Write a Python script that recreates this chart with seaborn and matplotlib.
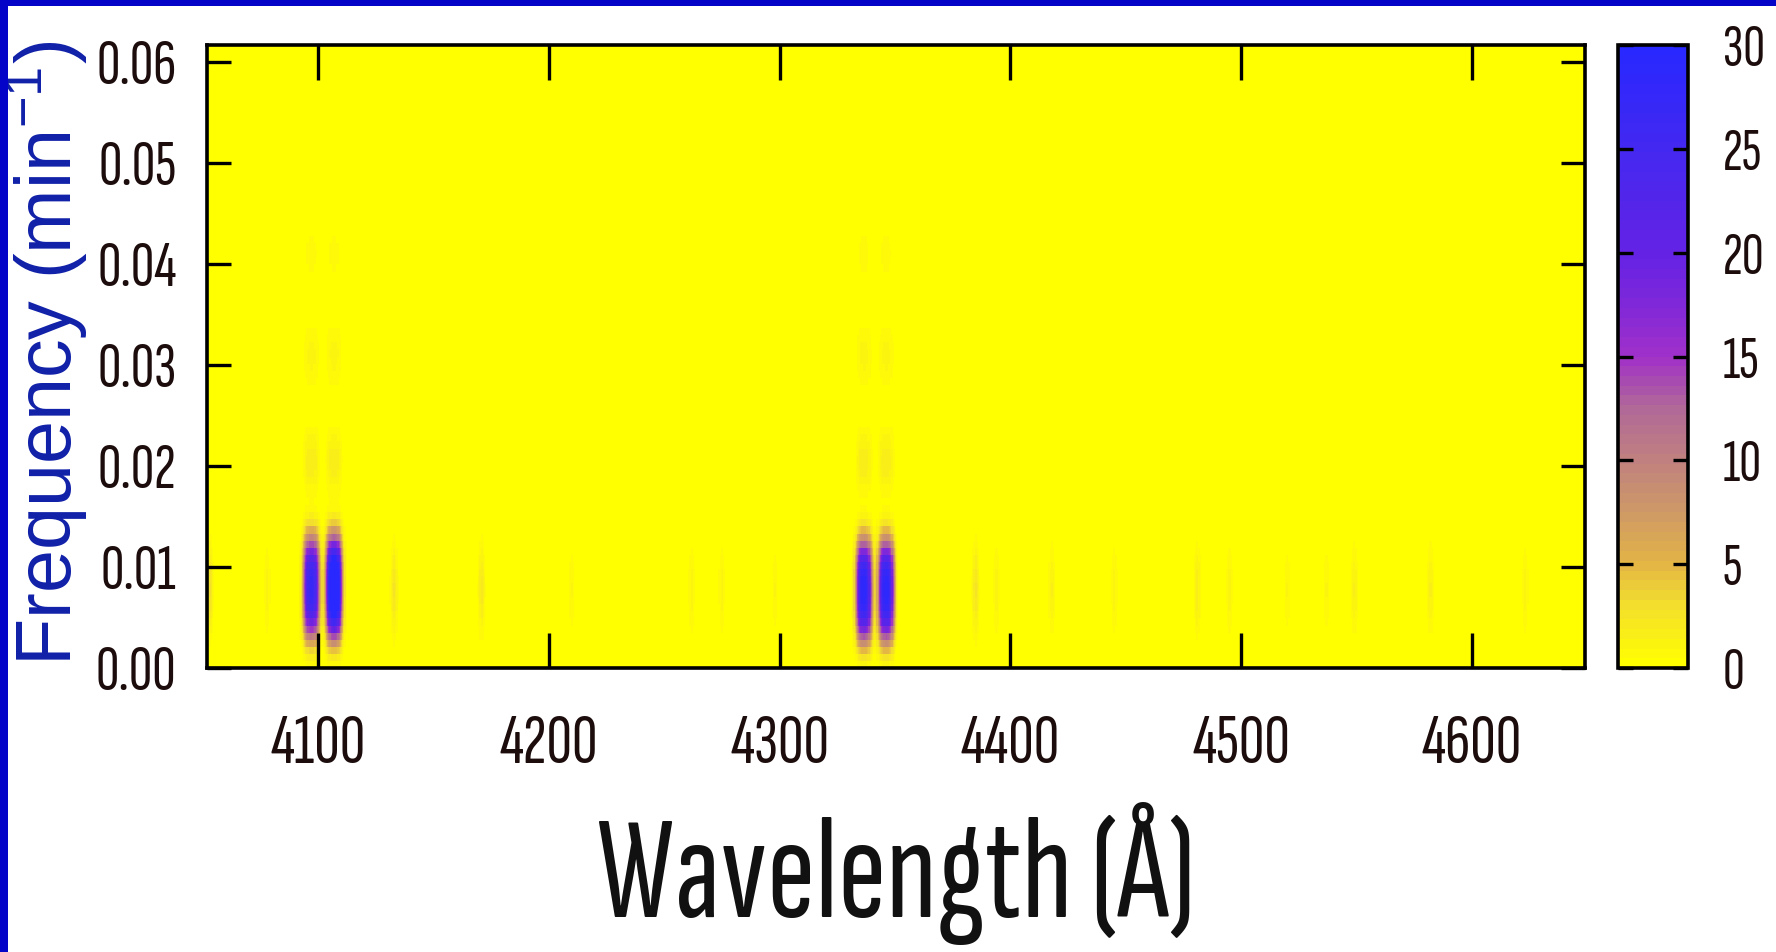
import numpy as np
import pandas as pd
import matplotlib
matplotlib.use("Agg")
import matplotlib.pyplot as plt
from matplotlib import font_manager
from matplotlib.font_manager import FontProperties
from matplotlib.colors import LinearSegmentedColormap
from matplotlib.patches import Rectangle
import seaborn as sns

# ---- axis extents ----
wl_range = [4052.0, 4649.0]          # Angstrom
freq_range = [0.0, 0.0617]           # min^-1

# ---- strong double-lobed power at H-delta and H-gamma ----
lobe_wavelengths = [4097.2, 4107.0, 4336.6, 4346.2]
lobe_freqs = [0.0080, 0.0080, 0.0077, 0.0077]
lobe_peaks = [27.0, 36.0, 29.0, 29.0]

# ---- weak harmonics stacked above each lobe ----
harmonic_freqs = [0.0205, 0.0310, 0.0410]
harmonic_peaks = [1.8, 1.1, 0.6]

# ---- faint streaks from weaker lines ----
streak_wavelengths = [4053, 4078, 4133, 4171, 4210, 4262, 4275, 4298, 4385,
                      4394, 4418, 4445, 4481, 4495, 4520, 4537, 4549, 4582, 4623]
streak_peaks = [3.0, 1.2, 2.5, 2.2, 1.0, 1.2, 1.2, 1.0, 2.5,
                1.2, 1.5, 1.2, 1.8, 1.2, 1.0, 1.0, 1.5, 1.5, 1.2]

# ---- tick labels ----
x_ticks = [4100, 4200, 4300, 4400, 4500, 4600]
y_ticks = [0.00, 0.01, 0.02, 0.03, 0.04, 0.05, 0.06]
cbar_ticks = [0, 5, 10, 15, 20, 25, 30]

# ---- power map on a regular wavelength/frequency grid ----
dw = 0.5
n_f = 88
df = (freq_range[1] - freq_range[0]) / n_f
wl = wl_range[0] + (np.arange(int(round((wl_range[1] - wl_range[0]) / dw))) + 0.5) * dw
fr = freq_range[0] + (np.arange(n_f) + 0.5) * df
W, F = np.meshgrid(wl, fr)

power = np.zeros_like(W)
for lw, lf, lp in zip(lobe_wavelengths, lobe_freqs, lobe_peaks):
    profile_w = np.exp(-0.5 * np.abs((W - lw) / 2.7) ** 3)
    power += lp * profile_w * np.exp(-0.5 * np.abs((F - lf) / 0.0039) ** 3)
    for hf, hp in zip(harmonic_freqs, harmonic_peaks):
        power += hp * profile_w * np.exp(-0.5 * ((F - hf) / 0.0022) ** 2)
for sw, sp in zip(streak_wavelengths, streak_peaks):
    power += sp * np.exp(-0.5 * ((W - sw) / 1.0) ** 2) * np.exp(-0.5 * ((F - 0.0078) / 0.003) ** 2)

data = pd.DataFrame(power, index=np.round(fr, 5), columns=np.round(wl, 2))

# ---- palette: yellow -> gold -> mauve -> purple -> blue ----
cmap = LinearSegmentedColormap.from_list(
    "yellow_blue",
    [(0.0, "#FFFF00"), (0.10, "#F2DC30"), (0.1667, "#E2B248"), (0.25, "#CE9868"),
     (0.3333, "#C08080"), (0.4167, "#B06898"), (0.50, "#A030C8"), (0.5833, "#8028D8"),
     (0.6667, "#6422E4"), (0.8333, "#4428F0"), (1.0, "#2828FF")],
    N=64,
)

sns.set_style("ticks")
plt.rcParams["font.family"] = ["Liberation Sans", "DejaVu Sans"]
plt.rcParams["mathtext.fontset"] = "custom"
plt.rcParams["mathtext.rm"] = "Liberation Sans"
plt.rcParams["mathtext.it"] = "Liberation Sans:italic"

fig = plt.figure(figsize=(17.76, 9.52), dpi=100, facecolor="white")
renderer = fig.canvas.get_renderer()


# ---- pick the narrowest regular sans face that is installed ----
def _candidate_faces():
    faces = []
    for f in font_manager.fontManager.ttflist:
        narrowish = ("Narrow" in f.name or "Condensed" in f.name
                     or "Condensed" in f.fname or "Narrow" in f.fname
                     or str(f.stretch) in ("condensed", "semi-condensed", "extra-condensed", "ultra-condensed"))
        if not narrowish or f.style != "normal":
            continue
        if f.weight not in (400, "normal", "regular", "book"):
            continue
        if "Mono" in f.name or "Serif" in f.name or "CJK" in f.name:
            continue
        faces.append(f.fname)
    return faces


def _ink(prop, s):
    p = prop.copy()
    p.set_size(100)
    w, h, d = renderer.get_text_width_height_descent(s, p, ismath=False)
    return w, h


base = FontProperties(family="Liberation Sans")
best_prop, best_score = base, None
target_ratio = 95.0 / 47.0     # width / digit height of "4100"
for fname in _candidate_faces():
    try:
        prop = FontProperties(fname=fname)
        w, h = _ink(prop, "4100")
        if h <= 0:
            continue
        score = abs(w / h - target_ratio)
        if best_score is None or score < best_score:
            best_prop, best_score = prop, score
    except Exception:
        continue
if best_score is None:
    best_prop = base


def sized(text, target_w, target_h, prop=None):
    """Point size balancing a target ink width and ink height (pixels)."""
    prop = (prop or best_prop).copy()
    w, h = _ink(prop, text)
    s_w = 100.0 * target_w / w
    s_h = 100.0 * target_h / h
    out = prop.copy()
    out.set_size(float(np.sqrt(s_w * s_h)))
    return out


ytick_prop = sized("0.06", 81, 43)
xtick_prop = sized("4100", 95, 47)
cbar_prop = sized("30", 40, 42)
xlabel_prop = sized("Wavelength", 470, 128)
ylabel_prop = sized("Frequency (min", 650, 60, prop=base)

ax = fig.add_axes([0.1166, 0.2983, 0.7759, 0.6544])
cax = fig.add_axes([0.9110, 0.2983, 0.0394, 0.6544])

sns.heatmap(data, ax=ax, cbar_ax=cax, cmap=cmap, vmin=0, vmax=30,
            xticklabels=False, yticklabels=False, rasterized=True)
ax.invert_yaxis()
ax.set_axisbelow(False)

tick_color = "#1c0c0c"
ax.set_xticks([(w - wl_range[0]) / dw for w in x_ticks])
ax.set_xticklabels([str(w) for w in x_ticks], rotation=0, fontproperties=xtick_prop)
ax.set_yticks([(f - freq_range[0]) / df for f in y_ticks])
ax.set_yticklabels([f"{f:.2f}" for f in y_ticks], rotation=0, fontproperties=ytick_prop)

ax.tick_params(axis="x", direction="in", length=25, width=2.4, top=True, bottom=True,
               labelcolor=tick_color, color="black", pad=33)
ax.tick_params(axis="y", direction="in", length=17, width=2.4, left=True, right=True,
               labelcolor=tick_color, color="black", pad=22)
for s in ax.spines.values():
    s.set_visible(True)
    s.set_linewidth(2.6)
    s.set_color("black")
    s.set_zorder(5)

ax.set_xlabel("Wavelength (Å)", fontproperties=xlabel_prop, color="#111111")
ax.xaxis.set_label_coords(0.5, -0.215)
ax.set_ylabel("Frequency (min$^{-1}$)", fontproperties=ylabel_prop, color="#1020A8")
ax.yaxis.set_label_coords(-0.0850, 0.5056)

cbar = ax.collections[0].colorbar
cbar.set_ticks(cbar_ticks)
cbar.set_ticklabels([str(t) for t in cbar_ticks])
cbar.outline.set_linewidth(2.6)
cbar.outline.set_edgecolor("black")
cbar.ax.set_axisbelow(False)
cbar.ax.tick_params(direction="in", length=11, width=2.4, left=True, right=True,
                    labelleft=False, labelright=True,
                    labelcolor=tick_color, color="black", pad=25)
for lab in cbar.ax.get_yticklabels():
    lab.set_fontproperties(cbar_prop)

# slide frame along the left and top edges
fig.add_artist(Rectangle((0, 0), 8 / 1776, 1, transform=fig.transFigure,
                         facecolor="#0404C8", edgecolor="none", zorder=10))
fig.add_artist(Rectangle((0, 1 - 6 / 952), 1, 6 / 952, transform=fig.transFigure,
                         facecolor="#0404C8", edgecolor="none", zorder=10))

fig.savefig("out.png", dpi=100, facecolor="white")
